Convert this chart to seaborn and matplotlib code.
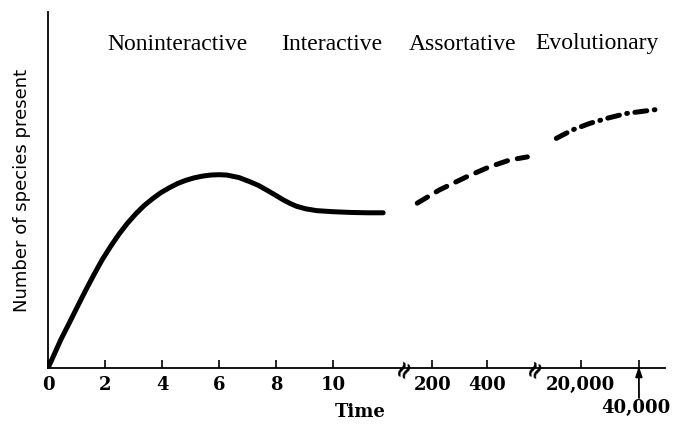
import numpy as np
import pandas as pd
import matplotlib
matplotlib.use("Agg")
import matplotlib.pyplot as plt
import seaborn as sns

# ---- data ----
t_nonint = [0, 0.2, 0.446, 0.75, 1.03, 1.32, 1.61, 1.9, 2.20, 2.5, 2.78,
            3.08, 3.37, 3.66, 3.95, 4.25, 4.54, 4.83, 5.12, 5.42, 5.71,
            6.0, 6.27, 6.7, 7.09, 7.38, 7.67, 7.97, 8.26, 8.5, 8.73,
            9.05, 9.43, 10.0, 10.60, 11.2, 11.76]
y_nonint = [0, 3.5, 7.9, 12.7, 17.2, 21.8, 26.2, 30.4, 34.2, 37.7, 40.6,
            43.3, 45.6, 47.5, 49.2, 50.6, 51.8, 52.7, 53.4, 53.9, 54.2,
            54.3, 54.2, 53.5, 52.3, 51.3, 50.0, 48.6, 47.2, 46.2, 45.4,
            44.7, 44.2, 43.9, 43.7, 43.6, 43.6]
t_assort = [145, 225, 324, 407, 480, 545]
y_assort = [46.3, 50.0, 53.7, 56.5, 58.4, 59.3]
t_evol = [11620, 17240, 23100, 28860, 35760, 40345, 47830]
y_evol = [64.5, 66.9, 68.7, 70.1, 71.5, 72.0, 72.8]

tick_values = [0, 2, 4, 6, 8, 10, 200, 400, 20000, 40000]
tick_labels = ["0", "2", "4", "6", "8", "10", "200", "400", "20,000", ""]
stage_labels = ["Noninteractive", "Interactive", "Assortative", "Evolutionary"]

# broken time axis: piecewise-linear scale
T_KNOTS = [0, 12.5, 98, 571, 4138, 60000]
P_KNOTS = [0, 12.5, 12.501, 17.07, 17.071, 22.77]


def fwd(t):
    return np.interp(t, T_KNOTS, P_KNOTS)


def inv(p):
    return np.interp(p, P_KNOTS, T_KNOTS)


sns.set_style("white")
plt.rcParams["font.family"] = ["DejaVu Serif"]
plt.rcParams["text.color"] = "black"

fig = plt.figure(figsize=(6.74, 4.25), dpi=100)
ax = fig.add_axes([48 / 674, 1 - 368 / 425, 617 / 674, 356 / 425])
ax.set_xscale("function", functions=(fwd, inv))

lw = 3.6
df1 = pd.DataFrame({"t": t_nonint, "y": y_nonint})
df2 = pd.DataFrame({"t": t_assort, "y": y_assort})
df3 = pd.DataFrame({"t": t_evol, "y": y_evol})
sns.lineplot(data=df1, x="t", y="y", ax=ax, color="black", lw=lw,
             solid_capstyle="round", solid_joinstyle="round", sort=False)
sns.lineplot(data=df2, x="t", y="y", ax=ax, color="black", lw=lw,
             dash_capstyle="round", sort=False)
ax.lines[-1].set_dashes((2.4, 2.0))
sns.lineplot(data=df3, x="t", y="y", ax=ax, color="black", lw=lw,
             dash_capstyle="round", sort=False)
ax.lines[-1].set_dashes((2.4, 1.5, 0.15, 1.5))

ax.set_xlim(0, 49000)
ax.set_ylim(0, 100)
ax.set_yticks([])
ax.set_xticks(tick_values)
ax.set_xticklabels(tick_labels)
ax.tick_params(axis="x", bottom=True, direction="in", length=6, width=1.2,
               pad=6, labelsize=13, colors="black")
for lab in ax.get_xticklabels():
    lab.set_fontweight("bold")
for side in ["top", "right"]:
    ax.spines[side].set_visible(False)
for side in ["left", "bottom"]:
    ax.spines[side].set_linewidth(1.3)
    ax.spines[side].set_color("black")

ax.set_xlabel("")
ax.set_ylabel("")
fig.text(22 / 674, 1 - 190 / 425, "Number of species present", rotation=90,
         ha="center", va="center", fontsize=13, family="DejaVu Sans",
         color="black")
fig.text(360 / 674, 1 - 412 / 425, "Time", ha="center", va="center",
         fontsize=13, fontweight="bold", color="black")

# 40,000 label with arrow to its tick
fig.text(636 / 674, 1 - 408 / 425, "40,000", ha="center", va="center",
         fontsize=13, fontweight="bold", color="black")
ax.annotate("", xy=(40000, 0.005), xycoords=("data", "axes fraction"),
            xytext=(639, 425 - 398), textcoords="figure pixels",
            arrowprops=dict(arrowstyle="-|>,head_length=0.6,head_width=0.2",
                            color="black", lw=1.3, shrinkA=0, shrinkB=0))

# axis break marks
for px in [404, 535]:
    fig.text(px / 674, 1 - 368 / 425, "\u2248", rotation=65, ha="center",
             va="center", fontsize=17, fontweight="bold", color="black")

# stage labels
stage_x = [177, 332, 463, 597]
for lab, px in zip(stage_labels, stage_x):
    fig.text(px / 674, 1 - 44 / 425, lab, ha="center", va="center",
             fontsize=17, family="Liberation Serif", color="black")

fig.savefig("out.png", dpi=100)
